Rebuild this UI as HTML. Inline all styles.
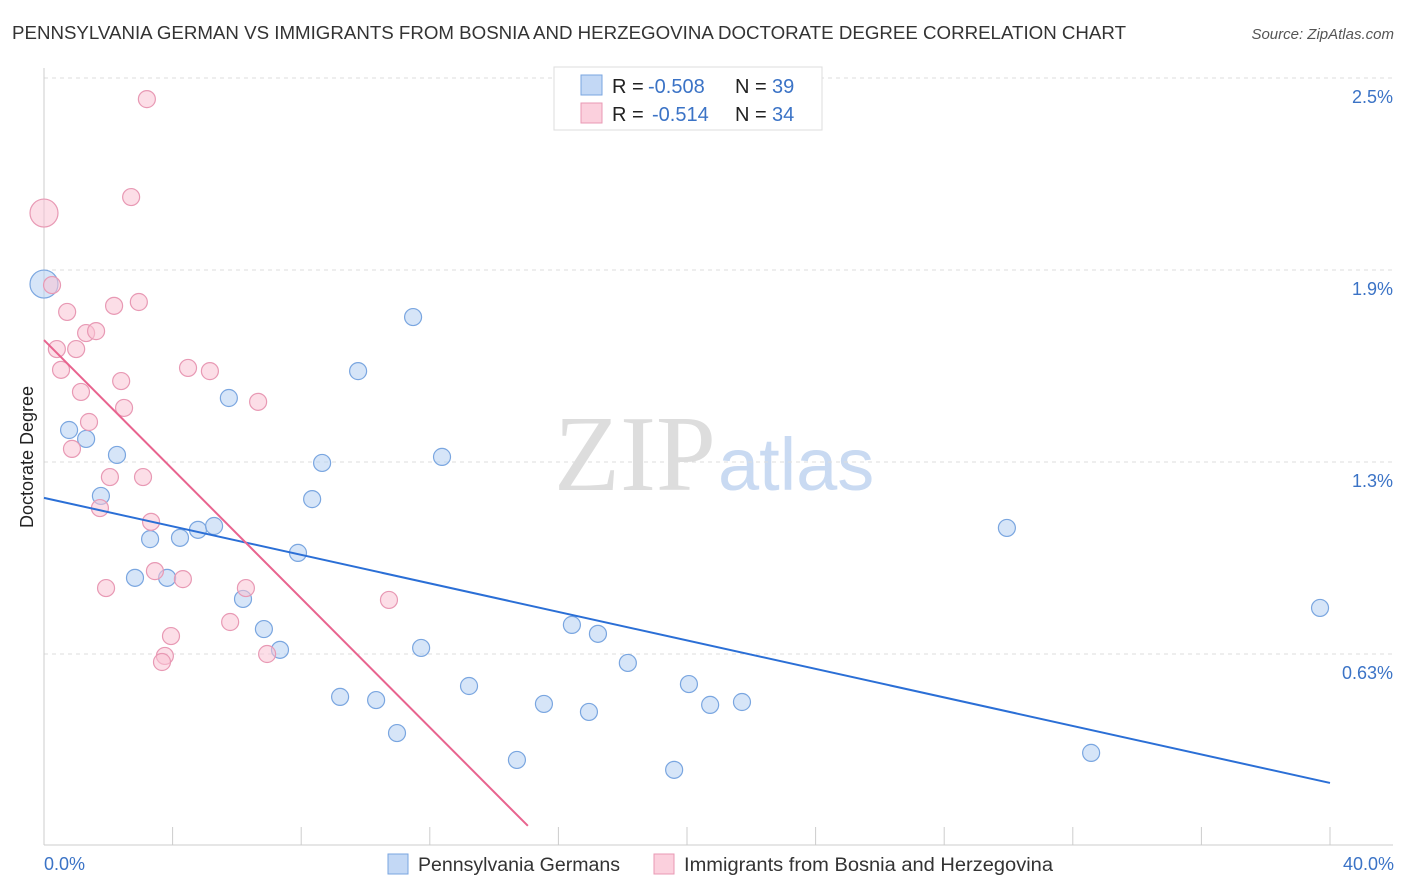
<!DOCTYPE html>
<html><head><meta charset="utf-8"><style>
body{margin:0;background:#fff;font-family:"Liberation Sans",sans-serif}
svg{display:block}
</style></head><body>
<svg id="chart" width="1406" height="892">
<text x="12" y="39" font-size="18" fill="#333" textLength="1114" lengthAdjust="spacingAndGlyphs">PENNSYLVANIA GERMAN VS IMMIGRANTS FROM BOSNIA AND HERZEGOVINA DOCTORATE DEGREE CORRELATION CHART</text>
<text x="1394" y="39" font-size="15" fill="#555" font-style="italic" text-anchor="end">Source: ZipAtlas.com</text>
<text x="716" y="490" font-size="108" fill="#ddd" font-family="Liberation Serif,serif" text-anchor="end">ZIP</text>
<text x="718" y="490" font-size="74" fill="#c9daf2">atlas</text>
<g id="grid"></g><g id="marks"></g>
<text transform="translate(33,457) rotate(-90)" font-size="18" fill="#222" text-anchor="middle">Doctorate Degree</text>
<text x="44" y="870" font-size="18" fill="#3b73c6">0.0%</text>
<text x="1394" y="870" font-size="18" fill="#3b73c6" text-anchor="end">40.0%</text>
<g>
<rect x="388" y="854" width="20" height="20" fill="#c3d8f5" stroke="#7aa6e0"/>
<text x="418" y="871" font-size="19" fill="#333" textLength="202" lengthAdjust="spacingAndGlyphs">Pennsylvania Germans</text>
<rect x="654" y="854" width="20" height="20" fill="#fbd0dd" stroke="#e899b4"/>
<text x="684" y="871" font-size="19" fill="#333" textLength="369" lengthAdjust="spacingAndGlyphs">Immigrants from Bosnia and Herzegovina</text>
</g>
<g>
<rect x="554" y="67" width="268" height="63" fill="#fff" stroke="#ddd"/>
<rect x="581" y="75" width="21" height="20" fill="#c3d8f5" stroke="#7aa6e0"/>
<rect x="581" y="103" width="21" height="20" fill="#fbd0dd" stroke="#e899b4"/>
<text x="612" y="93" font-size="20" fill="#222">R = <tspan x="648" fill="#3b73c6">-0.508</tspan><tspan x="735">N = </tspan><tspan x="772" fill="#3b73c6">39</tspan></text>
<text x="612" y="121" font-size="20" fill="#222">R = <tspan x="652" fill="#3b73c6">-0.514</tspan><tspan x="735">N = </tspan><tspan x="772" fill="#3b73c6">34</tspan></text>
</g>
</svg>
<script>
const blueX=[0,0.78,1.31,2.27,1.77,3.30,4.23,4.79,5.29,2.83,3.83,6.19,5.75,6.84,7.34,7.90,8.34,8.65,9.77,11.48,12.38,11.73,9.21,10.33,10.98,13.22,14.71,15.55,16.42,16.95,17.23,18.16,19.60,20.06,20.72,21.71,29.95,32.57,39.69];
const blueY=[1.856,1.400,1.372,1.322,1.194,1.059,1.063,1.088,1.100,0.938,0.938,0.872,1.500,0.778,0.713,1.016,1.184,1.297,1.584,1.753,1.316,0.719,0.566,0.556,0.453,0.600,0.369,0.544,0.791,0.519,0.763,0.672,0.338,0.606,0.541,0.550,1.094,0.391,0.844];
const pinkX=[0,0.25,0.72,0.40,1.00,1.31,1.62,0.53,1.15,1.40,0.87,2.18,2.95,2.71,3.20,2.40,2.49,2.05,1.74,3.08,3.33,1.93,3.45,4.32,3.95,3.76,3.67,4.48,5.16,6.66,5.79,6.28,6.94,10.73];
const pinkY=[2.078,1.853,1.769,1.653,1.653,1.703,1.709,1.588,1.519,1.425,1.341,1.788,1.800,2.128,2.434,1.553,1.469,1.253,1.156,1.253,1.113,0.906,0.959,0.934,0.756,0.694,0.675,1.594,1.584,1.488,0.800,0.906,0.700,0.869];
const blueTrend=[1.188,0.297];
const pinkTrend=[1.681,0.163];
const pinkTrendEndX=15.05;
const yTicks=[2.5,1.9,1.3,0.7];
const yTickLabels=["2.5%","1.9%","1.3%","0.63%"];
const xTicks=[0,4,8,12,16,20,24,28,32,36,40];
const NS="http://www.w3.org/2000/svg";
const sx=v=>44+v*32.15, sy=v=>78+(2.5-v)*320;
function mk(t,a,p){const e=document.createElementNS(NS,t);for(const k in a)e.setAttribute(k,a[k]);p.appendChild(e);return e;}
const grid=document.getElementById('grid'),marks=document.getElementById('marks');
yTicks.forEach((v,i)=>{
 const l=mk('line',{x1:44,x2:1393,y1:sy(v),y2:sy(v),stroke:'#ddd','stroke-dasharray':'4,4'},grid);
 
 
 const t=mk('text',{x:1393,y:sy(v)+25,'font-size':18,fill:'#3b73c6','text-anchor':'end'},grid);
 t.textContent=yTickLabels[i];
 
 
});
const ax=mk('line',{x1:44,x2:1393,y1:845,y2:845,stroke:'#ccc'},grid);


const ay=mk('line',{x1:44,x2:44,y1:68,y2:845,stroke:'#ccc'},grid);


xTicks.forEach(v=>{
 const t=mk('line',{x1:sx(v),x2:sx(v),y1:827,y2:845,stroke:'#ccc'},grid);
 
 
});
function pts(X,Y,fill,stroke,name){
 X.forEach((x,i)=>{
  const r=(x===0)?14:8.5;
  const c=mk('circle',{cx:sx(x),cy:sy(Y[i]),r:r,fill:fill,'fill-opacity':0.55,stroke:stroke,'stroke-width':1.2},marks);
  
  
 });
}
pts(blueX,blueY,'#b5cff2','#7aa6e0','blue-point');
pts(pinkX,pinkY,'#f9c3d3','#e899b4','pink-point');
const bl=mk('line',{x1:sx(0),y1:sy(blueTrend[0]),x2:sx(40),y2:sy(blueTrend[1]),stroke:'#2b6fd6','stroke-width':2},marks);


const pl=mk('line',{x1:sx(0),y1:sy(pinkTrend[0]),x2:sx(pinkTrendEndX),y2:sy(pinkTrend[1]),stroke:'#e8648f','stroke-width':2},marks);


</script>
</body></html>
